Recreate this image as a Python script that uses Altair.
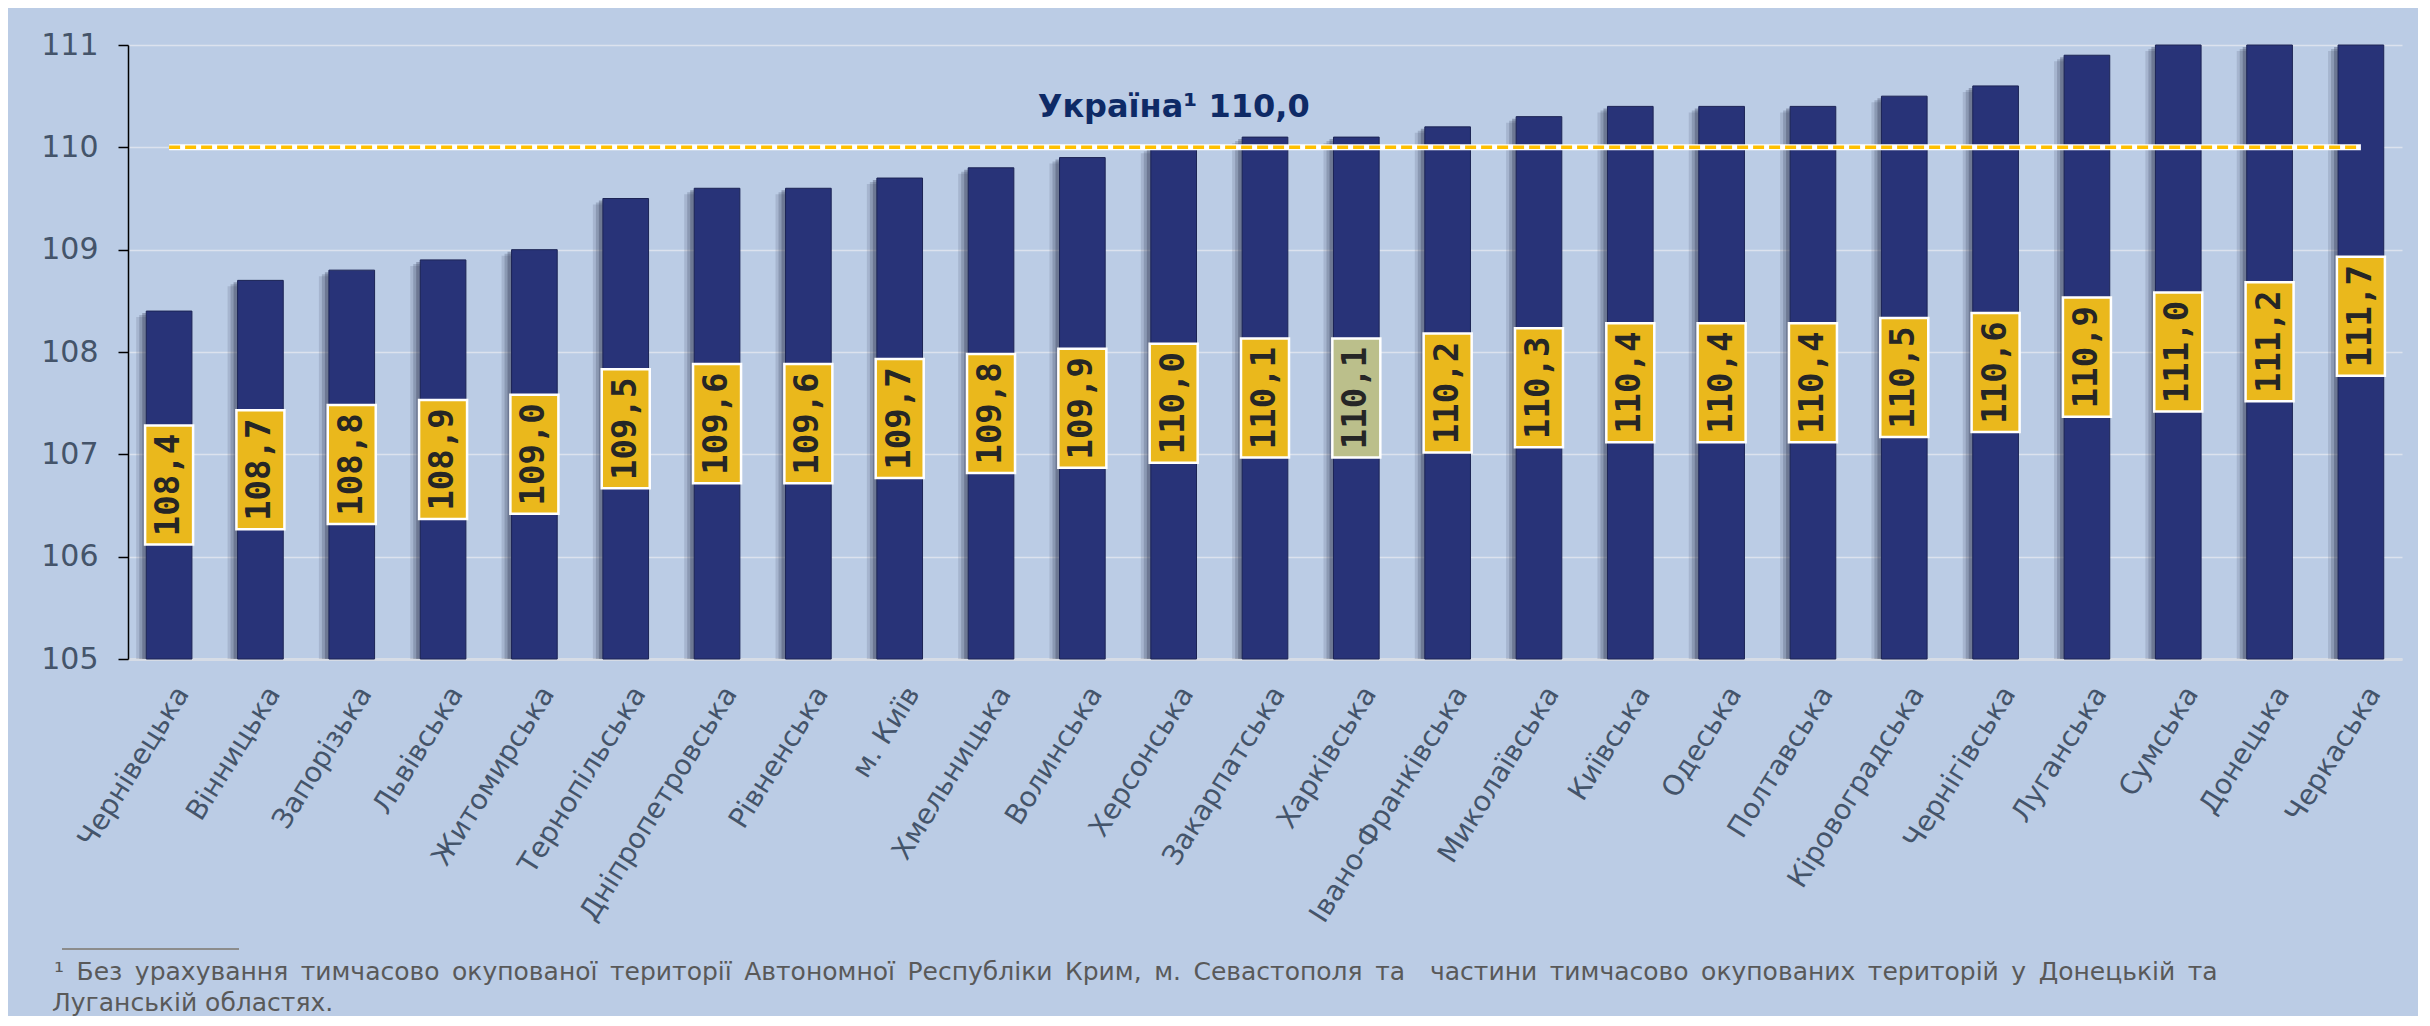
import altair as alt
import pandas as pd

# ---------------- data ----------------
regions = [
    "Чернівецька", "Вінницька", "Запорізька", "Львівська", "Житомирська",
    "Тернопільська", "Дніпропетровська", "Рівненська", "м. Київ", "Хмельницька",
    "Волинська", "Херсонська", "Закарпатська", "Харківська", "Івано-Франківська",
    "Миколаївська", "Київська", "Одеська", "Полтавська", "Кіровоградська",
    "Чернігівська", "Луганська", "Сумська", "Донецька", "Черкаська",
]
values = [
    108.4, 108.7, 108.8, 108.9, 109.0,
    109.5, 109.6, 109.6, 109.7, 109.8,
    109.9, 110.0, 110.1, 110.1, 110.2,
    110.3, 110.4, 110.4, 110.4, 110.5,
    110.6, 110.9, 111.0, 111.2, 111.7,
]
highlight_region = "Харківська"
national_value = 110.0
national_label = "Україна¹ 110,0"
national_label_region = "Херсонська"
y_min, y_max = 105, 111
y_ticks = [105, 106, 107, 108, 109, 110, 111]
footnote_lines = [
    "¹ Без урахування тимчасово окупованої території Автономної Республіки Крим, м. Севастополя та  частини тимчасово окупованих територій у Донецькій та",
    "Луганській областях.",
]

# ---------------- tables ----------------
df = pd.DataFrame({"region": regions, "value": values})
df["label"] = [f"{v:.1f}".replace(".", ",") for v in values]
df["mid"] = [(v + y_min) / 2 for v in values]
df["hl"] = ["yes" if r == highlight_region else "no" for r in regions]
df["base"] = y_min

ref_df = pd.DataFrame({"region": [regions[0], regions[-1]], "value": [national_value] * 2})
nat_df = pd.DataFrame({"region": [national_label_region], "value": [national_value], "text": [national_label]})
one = pd.DataFrame({"a": [0]})

# first footnote line is justified in the original: widen its word gaps
foot_line1 = footnote_lines[0].replace(" ", "\u2002")

# ---------------- styling ----------------
BG = "#BBCCE5"
BAR = "#283378"
FONT = "DejaVu Sans"
AXIS_TXT = "#44546A"

x_scale = alt.Scale(domain=regions, paddingInner=0.5, paddingOuter=0.2)
y_scale = alt.Scale(domain=[y_min, y_max], clamp=True, nice=False, zero=False)

x_enc = alt.X(
    "region:N", sort=regions, scale=x_scale, title=None,
    axis=alt.Axis(
        labelAngle=-58, labelAlign="right", labelBaseline="middle",
        labelFontSize=28, labelFont=FONT, labelColor=AXIS_TXT,
        ticks=False, domainColor="#D6DCE6", domainWidth=3,
        labelPadding=30, labelOffset=14, labelLimit=0,
    ),
)
y_enc = alt.Y(
    "value:Q", scale=y_scale, title=None,
    axis=alt.Axis(
        values=y_ticks, format="d", labelFontSize=30, labelFont=FONT,
        labelColor=AXIS_TXT, labelPadding=20, domainColor="black",
        domainWidth=1.5, tickColor="black", tickSize=10, tickWidth=1.5,
        grid=True, gridColor="#DCE2EE", gridWidth=1.5,
    ),
)

base = alt.Chart(df)

shadows = [
    base.mark_bar(color="#2E3650", opacity=op, xOffset=dx, yOffset=dy).encode(
        x=x_enc, y=y_enc, y2="base:Q"
    )
    for dx, dy, op in [(-10, 6, 0.15), (-7, 4, 0.22), (-4, 2, 0.32)]
]

bars = base.mark_bar(color=BAR, stroke="#1C2455", strokeWidth=1).encode(
    x=x_enc, y=y_enc, y2="base:Q"
)

ref_white = alt.Chart(ref_df).mark_line(color="white", strokeWidth=6).encode(
    x=alt.X("region:N", sort=regions, scale=x_scale),
    y=alt.Y("value:Q", scale=y_scale),
)
ref_dash = alt.Chart(ref_df).mark_line(
    color="#FFC000", strokeWidth=3.5, strokeDash=[11, 5]
).encode(
    x=alt.X("region:N", sort=regions, scale=x_scale),
    y=alt.Y("value:Q", scale=y_scale),
)

boxes = base.mark_point(
    shape="M-1,-2.48H1V2.48H-1Z", size=2304, filled=True,
    stroke="white", strokeWidth=2.5, opacity=1, fillOpacity=1,
).encode(
    x=alt.X("region:N", sort=regions, scale=x_scale),
    y=alt.Y("mid:Q", scale=y_scale),
    fill=alt.Fill("hl:N", scale=alt.Scale(domain=["no", "yes"], range=["#EAB81C", "#BBBF8B"]), legend=None),
)

labels = base.mark_text(
    angle=270, font="DejaVu Sans Mono", fontWeight="bold", fontSize=34,
    color="#262626", align="center", baseline="middle",
).encode(
    x=alt.X("region:N", sort=regions, scale=x_scale),
    y=alt.Y("mid:Q", scale=y_scale),
    text="label:N",
)

nat_text = alt.Chart(nat_df).mark_text(
    font=FONT, fontWeight="bold", fontSize=32, color="#0E2A66",
    align="center", baseline="alphabetic", dy=-30,
).encode(
    x=alt.X("region:N", sort=regions, scale=x_scale),
    y=alt.Y("value:Q", scale=y_scale),
    text="text:N",
)

sep = alt.Chart(one).mark_rule(color="#8C8C8C", strokeWidth=2).encode(
    x=alt.value(-66), x2=alt.value(111), y=alt.value(904)
)
foot1 = alt.Chart(one).mark_text(
    font=FONT, fontSize=25, color="#595959", align="left", baseline="alphabetic"
).encode(x=alt.value(-74), y=alt.value(935), text=alt.value(foot_line1))
foot2 = alt.Chart(one).mark_text(
    font=FONT, fontSize=25, color="#595959", align="left", baseline="alphabetic"
).encode(x=alt.value(-76), y=alt.value(966), text=alt.value(footnote_lines[1]))

chart = alt.layer(
    *shadows, bars, ref_white, ref_dash, boxes, labels, nat_text, sep, foot1, foot2
).properties(
    width=2274, height=614,
    autosize=alt.AutoSizeParams(type="none"),
    padding={"left": 120, "top": 37, "right": 16, "bottom": 357},
    background=BG,
).configure_view(stroke=None)

chart.save("out.html", embed_options={"renderer": "svg", "actions": False})
